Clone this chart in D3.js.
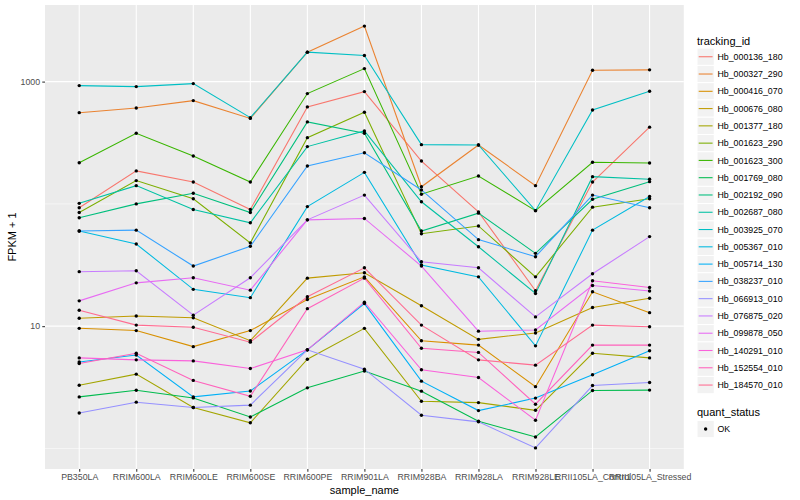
<!DOCTYPE html>
<html><head><meta charset="utf-8">
<script src="https://cdn.jsdelivr.net/npm/d3@7"></script>
<style>body{margin:0;background:#fff}</style>
</head><body><svg id="c" width="800" height="500"></svg>
<script>
const samples = ["PB350LA","RRIM600LA","RRIM600LE","RRIM600SE","RRIM600PE","RRIM901LA","RRIM928BA","RRIM928LA","RRIM928LE","RRII105LA_Control","RRII105LA_Stressed"];
const trackingIds = ["Hb_000136_180","Hb_000327_290","Hb_000416_070","Hb_000676_080","Hb_001377_180","Hb_001623_290","Hb_001623_300","Hb_001769_080","Hb_002192_090","Hb_002687_080","Hb_003925_070","Hb_005367_010","Hb_005714_130","Hb_038237_010","Hb_066913_010","Hb_076875_020","Hb_099878_050","Hb_140291_010","Hb_152554_010","Hb_184570_010"];
const palette = ["#F8766D","#EA8331","#D89000","#C09B00","#A3A500","#7CAE00","#39B600","#00BB4E","#00BF7D","#00C1A3","#00BFC4","#00BAE0","#00B0F6","#35A2FF","#9590FF","#C77CFF","#E76BF3","#FA62DB","#FF62BC","#FF6C91"];

const hb_000136_180 = [93, 186, 151, 90, 621, 828, 224, 86, 19.5, 151, 424];
const hb_000327_290 = [557, 609, 699, 500, 1741, 2844, 138, 303, 141, 1239, 1247];
const hb_000416_070 = [9.6, 9.2, 6.8, 9.2, 16.5, 25.3, 7.6, 7.0, 3.2, 19.1, 12.9];
const hb_000676_080 = [11.6, 12.1, 11.7, 7.6, 24.7, 27.3, 14.7, 7.8, 8.8, 14.2, 16.9];
const hb_001377_180 = [3.29, 4.05, 2.16, 1.62, 5.37, 9.6, 2.43, 2.37, 2.05, 6.0, 5.5];
const hb_001623_290 = [85, 155, 110, 48, 348, 562, 57, 66, 25.3, 94, 110];
const hb_001623_300 = [217, 378, 246, 151, 798, 1277, 120, 169, 88, 219, 216];
const hb_001769_080 = [2.64, 2.99, 2.59, 1.81, 3.13, 4.3, 2.94, 1.67, 1.24, 2.98, 3.0];
const hb_002192_090 = [77, 100, 122, 85, 468, 378, 60, 84, 39.4, 109, 152];
const hb_002687_080 = [101, 141, 90, 70, 294, 395, 104, 44.6, 18.5, 167, 159];
const hb_003925_070 = [927, 910, 963, 507, 1741, 1633, 305, 303, 88, 586, 834];
const hb_005367_010 = [60, 47, 20, 17.1, 95, 181, 31.6, 25.3, 6.9, 61, 115];
const hb_005714_130 = [5.1, 5.8, 2.64, 2.95, 6.4, 15.3, 3.55, 2.04, 2.58, 4.0, 6.3];
const hb_038237_010 = [60, 61, 31, 45, 204, 262, 130, 51, 37, 118, 93];
const hb_066913_010 = [1.95, 2.39, 2.16, 2.26, 6.4, 4.45, 1.87, 1.65, 1.01, 3.27, 3.46];
const hb_076875_020 = [27.9, 28.4, 12.3, 24.9, 74, 118, 33.6, 30, 11.9, 26.8, 54];
const hb_099878_050 = [16.1, 22.6, 24.9, 19.7, 74, 76, 31, 9.1, 9.3, 21.5, 19.4];
const hb_140291_010 = [5.5, 5.3, 5.2, 4.5, 6.4, 15.7, 4.4, 3.8, 1.7, 23.5, 20.7];
const hb_152554_010 = [4.95, 6.0, 3.6, 2.67, 13.9, 24.7, 6.6, 6.1, 2.3, 7.0, 7.0];
const hb_184570_010 = [13.5, 10.2, 9.8, 7.4, 17.4, 30, 10.2, 5.3, 4.8, 10.2, 9.9];

const seriesValues = [hb_000136_180, hb_000327_290, hb_000416_070, hb_000676_080, hb_001377_180, hb_001623_290, hb_001623_300, hb_001769_080, hb_002192_090, hb_002687_080, hb_003925_070, hb_005367_010, hb_005714_130, hb_038237_010, hb_066913_010, hb_076875_020, hb_099878_050, hb_140291_010, hb_152554_010, hb_184570_010];

const yMajor = [10, 1000];
const yMinor = [1, 100];
const yTickLabels = ["10", "1000"];
const quantLevels = ["OK"];

const FONT = "'Liberation Sans', Arial, Helvetica, sans-serif";
const svg = d3.select("#c");
const P = {l: 45, r: 683.8, t: 5, b: 469};

const x = d3.scalePoint().domain(samples).range([P.l, P.r]).padding(0.6);
const all = seriesValues.flat();
const lmin = Math.log10(d3.min(all)), lmax = Math.log10(d3.max(all));
const pad = (lmax - lmin) * 0.05;
const y = d3.scaleLog().domain([Math.pow(10, lmin - pad), Math.pow(10, lmax + pad)]).range([P.b, P.t]);

svg.append("rect").attr("x", P.l).attr("y", P.t).attr("width", P.r - P.l).attr("height", P.b - P.t).attr("fill", "#EBEBEB");

const grid = svg.append("g");
grid.selectAll(".ymin").data(yMinor).join("line")
  .attr("x1", P.l).attr("x2", P.r).attr("y1", d => y(d)).attr("y2", d => y(d))
  .attr("stroke", "#fff").attr("stroke-width", 0.53);
grid.selectAll(".ymaj").data(yMajor).join("line")
  .attr("x1", P.l).attr("x2", P.r).attr("y1", d => y(d)).attr("y2", d => y(d))
  .attr("stroke", "#fff").attr("stroke-width", 1.07);
grid.selectAll(".xmaj").data(samples).join("line")
  .attr("x1", d => x(d)).attr("x2", d => x(d)).attr("y1", P.t).attr("y2", P.b)
  .attr("stroke", "#fff").attr("stroke-width", 1.07);

const series = trackingIds.map((id, i) => ({id, color: palette[i], vals: seriesValues[i].map((v, j) => ({s: samples[j], v}))}));
const line = d3.line().x(d => x(d.s)).y(d => y(d.v));

svg.append("g").selectAll("path").data(series).join("path")
  .attr("d", d => line(d.vals)).attr("fill", "none")
  .attr("stroke", d => d.color).attr("stroke-width", 1.07);

svg.append("g").selectAll("circle").data(series.flatMap(s => s.vals)).join("circle")
  .attr("cx", d => x(d.s)).attr("cy", d => y(d.v)).attr("r", 1.7).attr("fill", "#000");

// axes
const xAxis = svg.append("g").attr("transform", `translate(0,${P.b})`)
  .call(d3.axisBottom(x).tickSize(2.74).tickPadding(2.5));
const yAxis = svg.append("g").attr("transform", `translate(${P.l},0)`)
  .call(d3.axisLeft(y).tickValues(yMajor).tickFormat((d, i) => yTickLabels[i]).tickSize(2.74).tickPadding(2.2));
[xAxis, yAxis].forEach(a => {
  a.select(".domain").remove();
  a.selectAll(".tick line").attr("stroke", "#333333").attr("stroke-width", 1.07);
  a.selectAll(".tick text").attr("fill", "#4D4D4D").attr("font-size", "8.8px").attr("font-family", FONT);
});

svg.append("text").attr("x", (P.l + P.r) / 2).attr("y", 493.5).attr("text-anchor", "middle")
  .attr("font-size", "11px").attr("font-family", FONT).attr("fill", "#000").text("sample_name");
svg.append("text").attr("transform", `translate(16,${(P.t + P.b) / 2}) rotate(-90)`).attr("text-anchor", "middle")
  .attr("font-size", "11px").attr("font-family", FONT).attr("fill", "#000").text("FPKM + 1");

// legend
const lg = svg.append("g").attr("font-family", FONT);
const LX = 697, KS = 17.28, KY0 = 48.1;
lg.append("text").attr("x", LX).attr("y", 44.5).attr("font-size", "11px").text("tracking_id");
const items = lg.selectAll(".it").data(series).join("g").attr("transform", (d, i) => `translate(${LX},${KY0 + i * KS})`);
items.append("rect").attr("width", KS).attr("height", KS).attr("fill", "#F2F2F2").attr("stroke", "#fff").attr("stroke-width", 1);
items.append("line").attr("x1", 1.7).attr("x2", KS - 1.7).attr("y1", KS / 2).attr("y2", KS / 2)
  .attr("stroke", d => d.color).attr("stroke-width", 1.07);
items.append("text").attr("x", KS + 3.2).attr("y", KS / 2 + 3.1).attr("font-size", "8.8px").attr("fill", "#000").text(d => d.id);

lg.append("text").attr("x", LX).attr("y", 416).attr("font-size", "11px").text("quant_status");
const q = lg.selectAll(".q").data(quantLevels).join("g").attr("transform", (d, i) => `translate(${LX},${420.4 + i * KS})`);
q.append("rect").attr("width", KS).attr("height", KS).attr("fill", "#F2F2F2").attr("stroke", "#fff").attr("stroke-width", 1);
q.append("circle").attr("cx", KS / 2).attr("cy", KS / 2).attr("r", 1.7).attr("fill", "#000");
q.append("text").attr("x", KS + 3.2).attr("y", KS / 2 + 3.1).attr("font-size", "8.8px").attr("fill", "#000").text(d => d);
</script></body></html>
